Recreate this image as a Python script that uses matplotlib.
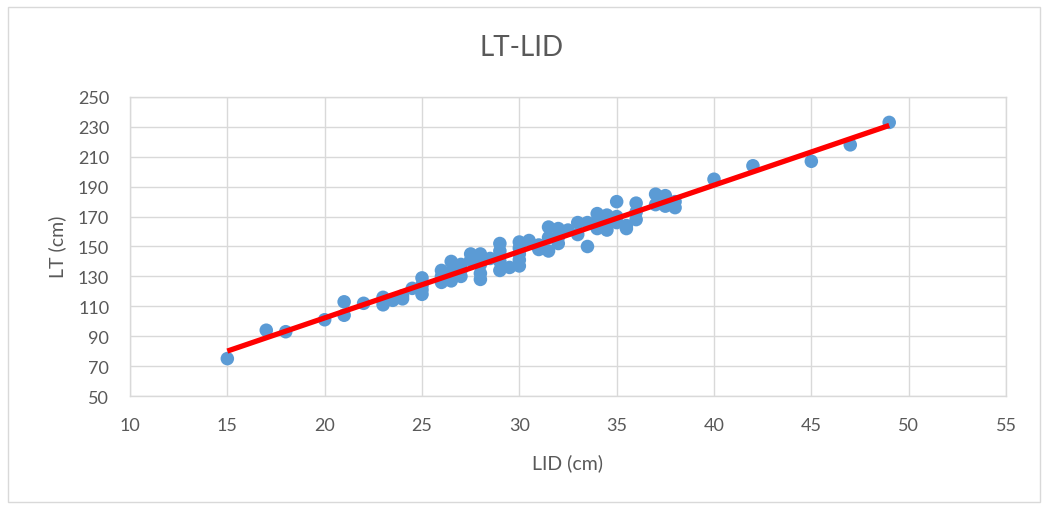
import numpy as np
import matplotlib
matplotlib.use("Agg")
import matplotlib.pyplot as plt
from matplotlib.patches import Rectangle

# ---- data ----
lid = [15, 17, 18, 20, 21, 21, 22, 23, 23, 23.5, 24, 24, 24.5,
       25, 25, 25, 25, 26, 26, 26, 26.5, 26.5, 26.5, 27, 27, 27,
       27.5, 27.5, 28, 28, 28, 28, 28.5, 29, 29, 29, 29, 29.5,
       30, 30, 30, 30, 30, 30.5, 31, 31, 31.5, 31.5, 31.5,
       32, 32, 32, 32.5, 33, 33, 33.5, 33.5, 34, 34, 34,
       34.5, 34.5, 34.5, 35, 35, 35, 35.5, 35.5, 36, 36, 36,
       37, 37, 37.5, 37.5, 38, 38, 40, 42, 45, 47, 49]
lt = [75, 94, 93, 101, 113, 104, 112, 116, 111, 114, 115, 117, 122,
      129, 124, 121, 118, 134, 130, 126, 140, 133, 127, 138, 134, 130,
      145, 141, 145, 138, 132, 128, 142, 152, 147, 140, 134, 136,
      153, 149, 145, 141, 137, 154, 148, 151, 163, 156, 147,
      162, 156, 152, 161, 166, 158, 166, 150, 172, 167, 162,
      171, 166, 161, 180, 170, 166, 164, 162, 179, 173, 168,
      185, 178, 184, 177, 180, 176, 195, 204, 207, 218, 233]

title = "LT-LID"
xlabel = "LID (cm)"
ylabel = "LT (cm)"
xticks = [10, 15, 20, 25, 30, 35, 40, 45, 50, 55]
yticks = [50, 70, 90, 110, 130, 150, 170, 190, 210, 230, 250]

plt.rcParams['font.family'] = ['Lato', 'DejaVu Sans']

W, H = 1044, 506
fig = plt.figure(figsize=(W / 100, H / 100), dpi=100)
fig.patch.set_facecolor("white")

ax = fig.add_axes([130 / W, 1 - 397 / H, (1006 - 130) / W, (397 - 98) / H])

grid_c = "#D9D9D9"
text_c = "#595959"

ax.scatter(lid, lt, s=95, color="#5B9BD5", edgecolors="none", zorder=3)

# linear trend line
x = np.array(lid, dtype=float)
y = np.array(lt, dtype=float)
k, b = np.polyfit(x, y, 1)
xl = np.array([min(lid), max(lid)])
ax.plot(xl, k * xl + b, color="#FF0000", lw=3.8, zorder=4, solid_capstyle="butt")

ax.set_xlim(10, 55)
ax.set_ylim(50, 250)
ax.set_xticks(xticks)
ax.set_yticks(yticks)
ax.grid(True, color=grid_c, lw=1)
ax.set_axisbelow(True)
for s in ax.spines.values():
    s.set_color(grid_c)
    s.set_linewidth(1)
ax.tick_params(length=0, labelsize=13, labelcolor=text_c)
ax.tick_params(axis="y", pad=15)
ax.tick_params(axis="x", pad=15)

fig.text(0.5, 1 - 48 / H, title, ha="center", va="center", fontsize=20, color=text_c)
fig.text((130 + 1006) / 2 / W, 1 - 463 / H, xlabel, ha="center", va="center",
         fontsize=14, color=text_c)
fig.text(57 / W, 1 - 247 / H, ylabel, ha="center", va="center", rotation=90,
         fontsize=14, color=text_c)

fig.patches.append(Rectangle((8 / W, 1 - 503 / H), (1040 - 8) / W, (503 - 8) / H,
                             transform=fig.transFigure, fill=False,
                             edgecolor=grid_c, lw=1))

fig.savefig("out.png", dpi=100)
